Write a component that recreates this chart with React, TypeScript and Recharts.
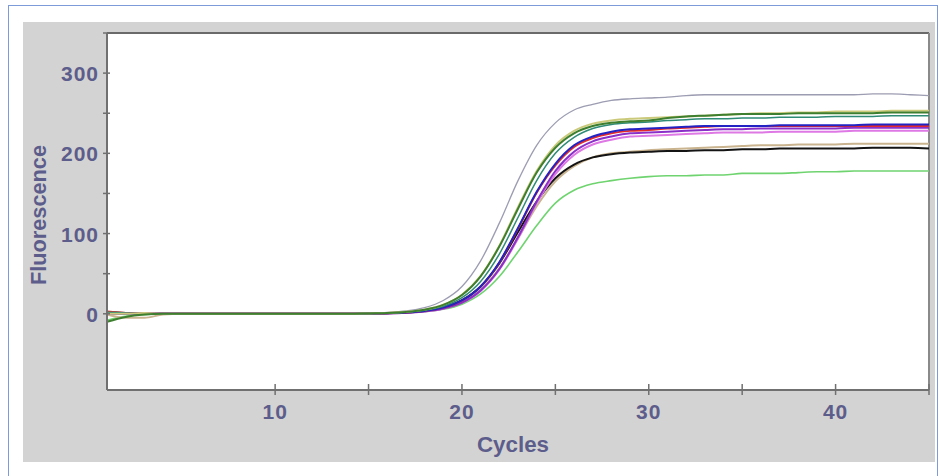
import { Line, LineChart, ReferenceLine, XAxis, YAxis } from "recharts";

// amplification curves (fluorescence per cycle)
const cycles = [
  1, 2, 3, 4, 5, 6, 7, 8, 9, 10, 11, 12, 13, 14, 15, 16, 17, 18, 19, 20, 21, 22, 23,
  24, 25, 26, 27, 28, 29, 30, 31, 32, 33, 34, 35, 36, 37, 38, 39, 40, 41, 42, 43, 44, 45,
];

const grey = [
  1, 0, 0, 0, 0, 0, 0, 0, 0, 0, 0, 0, 0, 0,
  0.7, 1.6, 3.5, 7.7, 16.6, 34, 66, 113, 166, 210, 238, 254, 261, 266, 268, 269,
  270, 272, 273, 273, 273, 273, 273, 273, 273, 273, 273, 274, 274, 273, 272,
];
const darkGreen = [
  -10, -4, -1, 0, 0, 0, 0, 0, 0, 0, 0, 0, 0, 0,
  0.5, 1.0, 2.3, 5.1, 11.1, 23.4, 46.7, 83.8, 131, 176, 207, 225, 234, 238, 240, 241,
  244, 246, 247, 248, 249, 249, 249, 250, 250, 250, 250, 250, 251, 251, 251,
];
const olive = [
  0, 0, 1, 0, 0, 0, 0, 0, 0, 0, 0, 0, 0, 0,
  0.5, 1.1, 2.4, 5.2, 11.2, 23.7, 47.2, 84.9, 133, 178, 210, 228, 237, 241, 243, 244,
  245, 246, 247, 248, 249, 250, 250, 251, 251, 252, 252, 252, 253, 253, 253,
];
const teal = [
  2, 1, 0, 0, 0, 0, 0, 0, 0, 0, 0, 0, 0, 0,
  0.4, 0.9, 2.0, 4.3, 9.4, 20.0, 40.3, 74.4, 120, 166, 200, 220, 231, 236, 238, 239,
  241, 242, 243, 243, 244, 244, 245, 245, 245, 246, 246, 246, 247, 247, 247,
];
const blue = [
  1, 0, 0, 0, 0, 0, 0, 0, 0, 0, 0, 0, 0, 0,
  0.3, 0.7, 1.6, 3.6, 7.8, 16.6, 34.1, 64.3, 107, 152, 187, 210, 221, 227, 230, 231,
  232, 233, 234, 234, 234, 234, 235, 235, 235, 235, 235, 236, 236, 236, 236,
];
const red = [
  3, 1, 0, 0, 0, 0, 0, 0, 0, 0, 0, 0, 0, 0,
  0.3, 0.7, 1.6, 3.5, 7.7, 16.5, 33.8, 63.7, 106, 151, 185, 208, 219, 225, 228, 229,
  231, 232, 233, 234, 234, 234, 234, 234, 234, 234, 234, 234, 234, 234, 234,
];
const purple = [
  0, 0, 0, 0, 0, 0, 0, 0, 0, 0, 0, 0, 0, 0,
  0.3, 0.6, 1.4, 3.0, 6.5, 14.0, 29.1, 55.8, 95.6, 140, 178, 202, 215, 221, 225, 226,
  227, 228, 229, 230, 230, 231, 231, 231, 231, 231, 232, 232, 232, 232, 232,
];
const pink = [
  0, 0, 0, 0, 0, 0, 0, 0, 0, 0, 0, 0, 0, 0,
  0.3, 0.6, 1.3, 2.9, 6.4, 13.8, 28.5, 54.9, 93.9, 138, 174, 198, 211, 217, 221, 222,
  223, 224, 225, 226, 226, 226, 227, 227, 227, 227, 228, 228, 228, 228, 228,
];
const tan = [
  -1, -5, -5, -1, 0, 0, 0, 0, 0, 0, 0, 0, 0, 0,
  0.3, 0.6, 1.4, 3.1, 6.9, 14.6, 30.0, 56.5, 94.1, 134, 165, 184, 195, 200, 202, 204,
  205, 206, 207, 208, 209, 210, 210, 211, 211, 211, 212, 212, 212, 212, 212,
];
const black = [
  2, 1, 0, 0, 0, 0, 0, 0, 0, 0, 0, 0, 0, 0,
  0.3, 0.8, 1.7, 3.7, 8.0, 16.9, 34.1, 62.9, 102, 140, 169, 186, 195, 199, 201, 202,
  203, 203, 204, 204, 205, 205, 206, 206, 206, 206, 206, 207, 207, 207, 206,
];
const lightGreen = [
  -8, -3, -1, 0, 0, 0, 0, 0, 0, 0, 0, 0, 0, 0,
  0.2, 0.5, 1.2, 2.6, 5.6, 12.0, 24.7, 46.5, 77.3, 110, 138, 154, 162, 166, 169, 171,
  172, 172, 173, 173, 175, 175, 175, 176, 177, 177, 178, 178, 178, 178, 178,
];

const xTicks = [10, 15, 20, 25, 30, 35, 40, 45];
const xLabels = [10, 20, 30, 40];
const yTicks = [0, 50, 100, 150, 200, 250, 300, 350];
const yLabels = [0, 100, 200, 300];

const series = [
  { key: "grey", values: grey, color: "#9c9cb2", width: 1.3 },
  { key: "lightGreen", values: lightGreen, color: "#6fd46f", width: 1.6 },
  { key: "tan", values: tan, color: "#c9b48f", width: 2 },
  { key: "black", values: black, color: "#141414", width: 2 },
  { key: "pink", values: pink, color: "#de78e4", width: 2 },
  { key: "purple", values: purple, color: "#8a2fc8", width: 2 },
  { key: "red", values: red, color: "#e42a2a", width: 2 },
  { key: "blue", values: blue, color: "#2323c4", width: 2 },
  { key: "teal", values: teal, color: "#2e8b76", width: 1.5 },
  { key: "olive", values: olive, color: "#cbc97a", width: 2 },
  { key: "darkGreen", values: darkGreen, color: "#3d7f2f", width: 2 },
];

const data = cycles.map((cycle, i) => {
  const row: Record<string, number> = { cycle };
  series.forEach((s) => (row[s.key] = s.values[i]));
  return row;
});

const textColor = "#5d5d8b";
const axisColor = "#707070";
const font = "'Liberation Sans', Arial, sans-serif";

const YTick = ({ x, y, payload }: any) => {
  const v = payload.value;
  return (
    <g>
      <line x1={x - 4} x2={v === 350 ? x : x + 3} y1={y} y2={y} stroke={axisColor} strokeWidth={1.5} />
      {yLabels.includes(v) && (
        <text x={x - 8} y={y + 8} textAnchor="end" fill={textColor} fontSize={21} fontWeight="bold" fontFamily={font} letterSpacing={1}>
          {v}
        </text>
      )}
    </g>
  );
};

const XTick = ({ x, y, payload }: any) => {
  const v = payload.value;
  return (
    <g>
      <line x1={x} x2={x} y1={y - 6} y2={y + 5} stroke={axisColor} strokeWidth={1.5} />
      {xLabels.includes(v) && (
        <text x={x} y={y + 29} textAnchor="middle" fill={textColor} fontSize={21} fontWeight="bold" fontFamily={font} letterSpacing={1}>
          {v}
        </text>
      )}
    </g>
  );
};

export default function App() {
  return (
    <div style={{ position: "absolute", left: 0, top: 0, width: 939, height: 476, background: "#fff", overflow: "hidden" }}>
      <div style={{ position: "absolute", left: 8, top: 5, width: 928, height: 490, border: "1px solid #7c9bd8" }} />
      <div style={{ position: "absolute", left: 23, top: 22, width: 912, height: 440, background: "#d3d3d3" }} />
      <div style={{ position: "absolute", left: 107, top: 33, width: 822, height: 357, background: "#fff" }} />
      <div style={{ position: "absolute", left: 0, top: 0 }}>
        <LineChart width={939} height={476} data={data} margin={{ top: 33, right: 10, bottom: 36, left: 27 }}>
          <XAxis
            dataKey="cycle"
            type="number"
            domain={[1, 45]}
            ticks={xTicks}
            height={50}
            tickSize={0}
            tickMargin={0}
            tickLine={false}
            tick={<XTick />}
            axisLine={{ stroke: axisColor, strokeWidth: 2 }}
            label={(p: any) => (
              <text x={513} y={452} textAnchor="middle" fill={textColor} fontSize={22} fontWeight="bold" fontFamily={font} textLength={72} lengthAdjust="spacingAndGlyphs">
                Cycles
              </text>
            )}
          />
          <YAxis
            type="number"
            domain={[-95, 350]}
            ticks={yTicks}
            width={80}
            tickSize={0}
            tickMargin={0}
            tickLine={false}
            tick={<YTick />}
            axisLine={{ stroke: axisColor, strokeWidth: 2 }}
            label={(p: any) => (
              <text
                x={46}
                y={215}
                transform="rotate(-90, 46, 215)"
                textAnchor="middle"
                fill={textColor}
                fontSize={22}
                fontWeight="bold"
                fontFamily={font}
                textLength={140}
                lengthAdjust="spacingAndGlyphs"
              >
                Fluorescence
              </text>
            )}
          />
          <ReferenceLine y={350} stroke="#6a6a6a" strokeWidth={2} />
          <ReferenceLine x={45} stroke="#8a8a8a" strokeWidth={2} />
          {series.map((s) => (
            <Line
              key={s.key}
              dataKey={s.key}
              type="monotone"
              stroke={s.color}
              strokeWidth={s.width}
              dot={false}
              isAnimationActive={false}
            />
          ))}
        </LineChart>
      </div>
    </div>
  );
}
